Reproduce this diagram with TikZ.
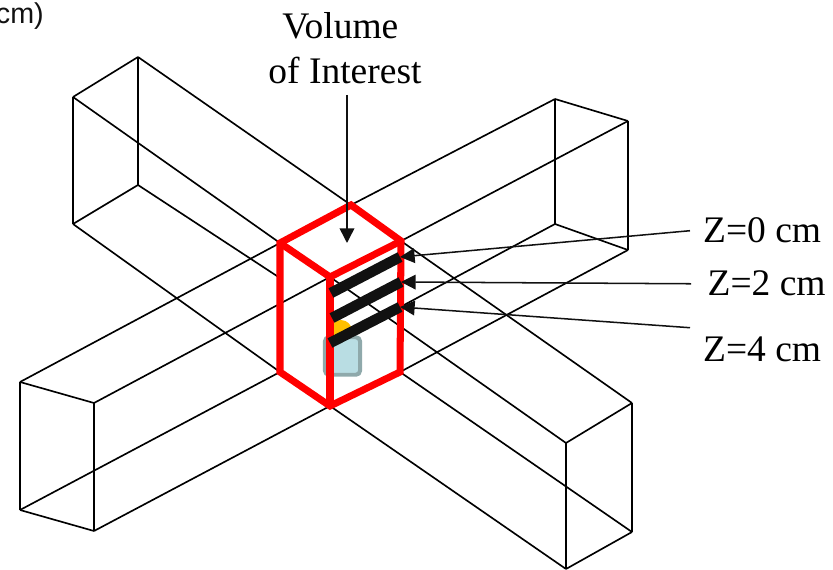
\documentclass[tikz,border=0pt]{standalone}
\usepackage{fontspec}
\setmainfont{Liberation Serif}
\newfontfamily\unitfont{Liberation Sans}
\usetikzlibrary{arrows.meta}
\definecolor{barblack}{HTML}{111111}
\definecolor{roifill}{HTML}{B9DDE3}
\definecolor{roiedge}{HTML}{8FA9AB}
\definecolor{spotorange}{HTML}{FFC000}
\tikzset{
  wire/.style={draw=black,line width=1.4pt},
  voibox/.style={draw=red,line width=6pt},
  slicebar/.style={draw=barblack,line width=9pt},
  pointer/.style={draw=barblack,line width=1.3pt,-{Triangle[length=12.5pt,width=12.5pt]}},
  zlabel/.style={font=\fontsize{32}{38}\selectfont,inner xsep=11pt,inner ysep=8pt},
}
\begin{document}
\begin{tikzpicture}
  [x=0.03cm,y=-0.03cm]
\useasboundingbox (0,0) rectangle (833,570);
% Esquinas de los cuatro brazos
  \coordinate (la1) at (138,57);
  \coordinate (la2) at (73,97);
  \coordinate (la3) at (138,185);
  \coordinate (la4) at (73,224);
  \coordinate (ra1) at (555,99);
  \coordinate (ra2) at (628,121);
  \coordinate (ra3) at (555,224);
  \coordinate (ra4) at (628,250);
  \coordinate (fl1) at (20,382);
  \coordinate (fl2) at (94,403);
  \coordinate (fl3) at (20,510);
  \coordinate (fl4) at (94,531);
  \coordinate (fr1) at (632,403);
  \coordinate (fr2) at (566,443);
  \coordinate (fr3) at (632,532);
  \coordinate (fr4) at (566,569);

  % Caja central
  \coordinate (v1) at (351,205);
  \coordinate (v2) at (280,243);
  \coordinate (v3) at (330,277);
  \coordinate (v4) at (401,241);
  \coordinate (v5) at (280,372);
  \coordinate (v6) at (330,406);
  \coordinate (v7) at (400,372);
  \coordinate (h1) at (280,278);
  \coordinate (h2) at (335,342);

  % Extremos de las barras
  \coordinate (b1) at (331,293);
  \coordinate (e1) at (400,257);
  \coordinate (b2) at (332,318);
  \coordinate (e2) at (401,282);
  \coordinate (b3) at (330,343);
  \coordinate (e3) at (400,307);

  % Aristas de los brazos
  \foreach \from/\to in {la1/la2, la1/la3, la2/la4, la3/la4, la1/v1, la2/v2, la3/h1, la4/v5,
                         ra1/ra2, ra1/ra3, ra2/ra4, ra3/ra4, ra1/v1, ra2/v4, ra3/h2, ra4/v7,
                         fl1/fl2, fl1/fl3, fl2/fl4, fl3/fl4, fl1/v2, fl2/v3, fl3/v5, fl4/v6,
                         fr1/fr2, fr1/fr3, fr2/fr4, fr3/fr4, fr1/v4, fr2/v3, fr3/v7, fr4/v6}
    \draw[wire] (\from) -- (\to);

  \node[circle,fill=spotorange,inner sep=0pt,minimum size=18.7pt] (spot) at (341,331) {};
  \node[rectangle,draw=roiedge,fill=roifill,line width=3.4pt,rounded corners=3.5pt,
        minimum width=30pt,minimum height=32pt] (roi) at (342.5,356) {};

  \draw[voibox] (v1) -- (v2) -- (v5) -- (v6) -- (v7) -- (v4) -- cycle;
  \draw[voibox] (v2) -- (v3) -- (v4);
  \draw[voibox] (v3) -- (v6);

  \foreach \from/\to in {b1/e1, b2/e2, b3/e3}
    \draw[slicebar] (\from) -- (\to);

  % Textos
  \node[font=\fontsize{32}{38}\selectfont,align=center,inner sep=9.7pt,anchor=south] (voi) at (345,95) {Volume\rule{8pt}{0pt}\\of Interest};
  \node[zlabel,anchor=base west] (z0) at (690,243) {Z=0 cm};
  \node[zlabel,inner xsep=14pt,anchor=base west] (z2) at (691,296) {Z=2 cm};
  \node[zlabel,anchor=base west] (z4) at (690,362) {Z=4 cm};
  \node[font=\unitfont\fontsize{24.5}{29}\selectfont,text=barblack,inner sep=0pt,anchor=base east] (unit) at (44,24) {cm)};

  \coordinate (voitip) at (347,243);
  \draw[pointer] (voi.south -| voitip) -- (voitip);
  \draw[pointer] (z0.west) -- (e1);
  \draw[pointer] (z2.west) -- (e2);
  \draw[pointer] (z4.north west) -- (e3);
\end{tikzpicture}
\end{document}
